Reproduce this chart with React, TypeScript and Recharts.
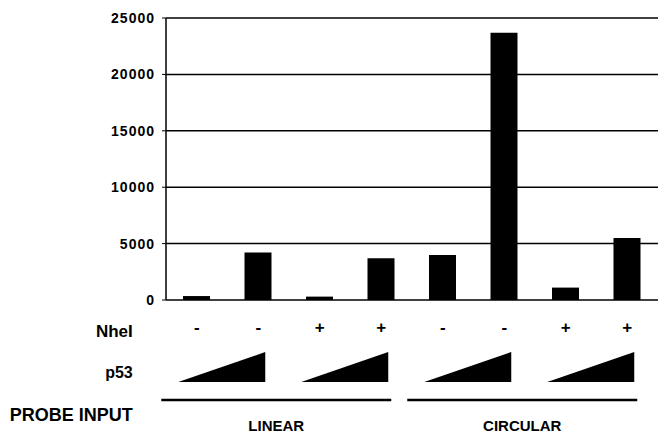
import React from 'react';
import { BarChart, Bar, XAxis, YAxis, CartesianGrid } from 'recharts';

const categories = ['L1', 'L2', 'L3', 'L4', 'C1', 'C2', 'C3', 'C4'];
const signalValues = [350, 4200, 300, 3700, 4000, 23700, 1100, 5500];
const nheISigns = ['-', '-', '+', '+', '-', '-', '+', '+'];
const probeGroups = ['LINEAR', 'CIRCULAR'];
const yTicks = [0, 5000, 10000, 15000, 20000, 25000];
const boundaryTicks = [1, 2, 3, 4, 5, 6, 7];

const data = categories.map((c, i) => ({ name: c, value: signalValues[i], sign: nheISigns[i] }));

const FONT = '"Liberation Sans", Arial, sans-serif';

function AnnotTick(props: any) {
  const { x, y, index } = props;
  const sign = nheISigns[index];
  const els: any[] = [];
  els.push(
    <text key="s" x={x} y={y + 33} textAnchor="middle" fontFamily={FONT} fontWeight="bold" fontSize={17} fill="#000">
      {sign}
    </text>
  );
  if (index === 0) {
    els.push(
      <text key="n" x={x - 64} y={y + 37} textAnchor="end" fontFamily={FONT} fontWeight="bold" fontSize={17} fill="#000">NheI</text>,
      <text key="p" x={x - 64} y={y + 78} textAnchor="end" fontFamily={FONT} fontWeight="bold" fontSize={16} fill="#000">p53</text>,
      <text key="pi" x={x - 64} y={y + 121} textAnchor="end" fontFamily={FONT} fontWeight="bold" fontSize={18} fill="#000">PROBE INPUT</text>
    );
  }
  if (index % 2 === 1) {
    els.push(
      <polygon key="t" points={`${x - 80},${y + 82} ${x + 7},${y + 82} ${x + 7},${y + 52}`} fill="#000" />
    );
  }
  if (index % 4 === 1) {
    const g = probeGroups[(index - 1) / 4];
    const cx = x + 18;
    els.push(
      <line key="l" x1={cx - 115} x2={cx + 115} y1={y + 100} y2={y + 100} stroke="#000" strokeWidth={2.5} />,
      <text key="g" x={cx} y={y + 131} textAnchor="middle" fontFamily={FONT} fontWeight="bold" fontSize={15} fill="#000">{g}</text>
    );
  }
  return <g>{els}</g>;
}

export default function App() {
  return (
    <div style={{ position: 'absolute', left: 0, top: 0, background: '#fff' }}>
      <BarChart
        width={658}
        height={436}
        data={data}
        margin={{ top: 18, right: 0, left: 106, bottom: 0 }}
        barSize={27}
      >
        <CartesianGrid xAxisId="cat" vertical={false} stroke="#000" strokeWidth={1.5} />
        <XAxis
          xAxisId="grid"
          type="number"
          domain={[0, 8]}
          ticks={boundaryTicks}
          height={0}
          tickSize={5}
          tickFormatter={() => ''}
          axisLine={{ stroke: '#000', strokeWidth: 1.5 }}
          tickLine={{ stroke: '#000', strokeWidth: 1 }}
        />
        <XAxis
          xAxisId="cat"
          dataKey="name"
          height={136}
          interval={0}
          axisLine={false}
          tickLine={false}
          tickSize={0}
          tickMargin={0}
          tick={<AnnotTick />}
        />
        <YAxis
          domain={[0, 25000]}
          ticks={yTicks}
          width={60}
          tickSize={4}
          tickMargin={7}
          axisLine={{ stroke: '#000', strokeWidth: 1.5 }}
          tickLine={{ stroke: '#000' }}
          tick={{ fill: '#000', fontSize: 14, fontWeight: 'bold', fontFamily: FONT, letterSpacing: 1 }}
        />
        <Bar xAxisId="cat" dataKey="value" fill="#000" isAnimationActive={false} />
      </BarChart>
    </div>
  );
}
